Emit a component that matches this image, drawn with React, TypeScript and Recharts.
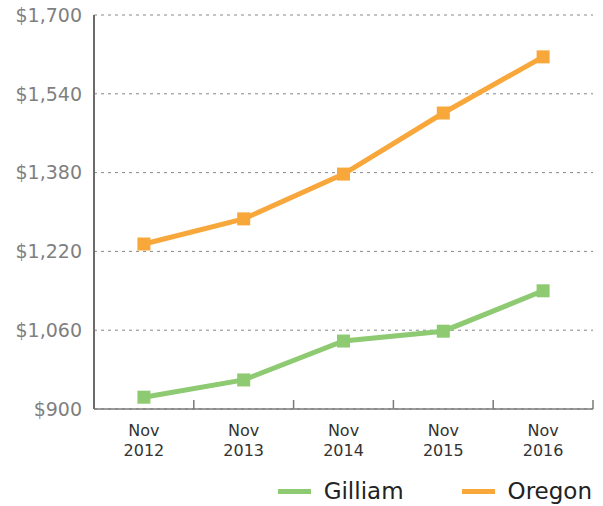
import React from "react";
import { LineChart, Line, XAxis, YAxis, CartesianGrid, Legend } from "recharts";

const categories = ["Nov 2012", "Nov 2013", "Nov 2014", "Nov 2015", "Nov 2016"];
const gilliam = [924, 959, 1038, 1058, 1140];
const oregon = [1235, 1286, 1377, 1501, 1615];
const yTicks = [900, 1060, 1220, 1380, 1540, 1700];

const data = categories.map((c, i) => ({ cat: c, Gilliam: gilliam[i], Oregon: oregon[i] }));

const GREEN = "#8dca72";
const ORANGE = "#f8a73a";
const FONT = "'DejaVu Sans', sans-serif";
const X_TICK_GAP = 15;

const SquareDot = (props: any) => {
  const { cx, cy, fill } = props;
  if (cx == null || cy == null) return null;
  const s = 13;
  return <rect x={cx - s / 2} y={cy - s / 2} width={s} height={s} fill={fill} />;
};

const XTick = (props: any) => {
  const { x, y, payload } = props;
  const parts = String(payload.value).split(" ");
  const half = payload && payload.offset != null ? payload.offset : 50;
  const axisY = y - X_TICK_GAP;
  return (
    <g>
      <line x1={x + half} x2={x + half} y1={axisY} y2={axisY - 9} stroke="#7a7a7a" strokeWidth={1.5} />
      <text x={x} y={y} textAnchor="middle" fill="#333" fontSize={16} fontFamily={FONT}>
        <tspan x={x} dy="0.72em">{parts[0]}</tspan>
        <tspan x={x} dy={20}>{parts[1]}</tspan>
      </text>
    </g>
  );
};

const LegendContent = (props: any) => {
  const { payload } = props;
  return (
    <div style={{ display: "flex", justifyContent: "flex-end", alignItems: "center", height: 30, paddingRight: 1, fontFamily: FONT }}>
      {payload.map((p: any, i: number) => (
        <div key={i} style={{ display: "flex", alignItems: "center", marginLeft: i === 0 ? 0 : 58 }}>
          <div style={{ width: 33, height: 5, background: p.color, marginRight: 13 }} />
          <span style={{ fontSize: 23, color: "#222" }}>{p.value}</span>
        </div>
      ))}
    </div>
  );
};

export default function App() {
  return (
    <div style={{ position: "absolute", left: 0, top: 0, width: 603, height: 506, background: "#fff" }}>
      <LineChart width={603} height={506} data={data} margin={{ top: 15, right: 10, bottom: 0, left: 14 }}>
        <CartesianGrid vertical={false} stroke="#888" strokeDasharray="3 4" />
        <XAxis
          dataKey="cat"
          scale="band"
          height={67}
          tick={<XTick />}
          tickLine={false}
          tickSize={0}
          tickMargin={X_TICK_GAP}
          interval={0}
          axisLine={{ stroke: "#7a7a7a", strokeWidth: 1.5 }}
        />
        <YAxis
          width={80}
          domain={[900, 1700]}
          ticks={yTicks}
          interval={0}
          tickLine={false}
          tickSize={10}
          tickMargin={2}
          axisLine={{ stroke: "#6b6b6b", strokeWidth: 2 }}
          tick={{ fill: "#7f7f7f", fontSize: 19, fontFamily: FONT }}
          tickFormatter={(v: number) => "$" + v.toLocaleString("en-US")}
        />
        <Legend verticalAlign="bottom" align="right" content={<LegendContent />} />
        <Line
          dataKey="Gilliam"
          stroke={GREEN}
          fill={GREEN}
          strokeWidth={5}
          dot={<SquareDot />}
          activeDot={false}
          isAnimationActive={false}
        />
        <Line
          dataKey="Oregon"
          stroke={ORANGE}
          fill={ORANGE}
          strokeWidth={5}
          dot={<SquareDot />}
          activeDot={false}
          isAnimationActive={false}
        />
      </LineChart>
    </div>
  );
}
